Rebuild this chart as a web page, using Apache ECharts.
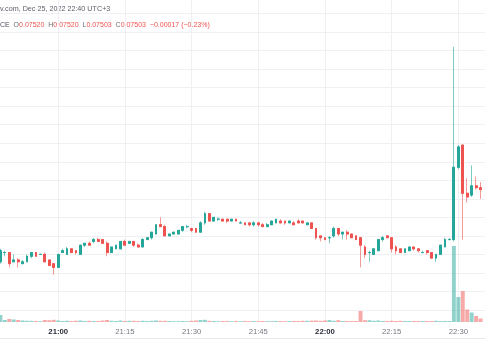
<!DOCTYPE html>
<html><head><meta charset="utf-8">
<script src="https://cdn.jsdelivr.net/npm/echarts@6/dist/echarts.min.js"></script>
<style>html,body{margin:0;padding:0;background:#fff}#c{width:485px;height:360px}</style>
</head><body><div id="c"></div>
<script>
// Minute categories (last one is an empty slot at the right edge)
const times = [
'20:47','20:48','20:49','20:50','20:51','20:52','20:53','20:54','20:55','20:56','20:57','20:58','20:59',
'21:00','21:01','21:02','21:03','21:04','21:05','21:06','21:07','21:08','21:09','21:10','21:11','21:12','21:13','21:14',
'21:15','21:16','21:17','21:18','21:19','21:20','21:21','21:22','21:23','21:24','21:25','21:26','21:27','21:28','21:29',
'21:30','21:31','21:32','21:33','21:34','21:35','21:36','21:37','21:38','21:39','21:40','21:41','21:42','21:43','21:44',
'21:45','21:46','21:47','21:48','21:49','21:50','21:51','21:52','21:53','21:54','21:55','21:56','21:57','21:58','21:59',
'22:00','22:01','22:02','22:03','22:04','22:05','22:06','22:07','22:08','22:09','22:10','22:11','22:12','22:13','22:14',
'22:15','22:16','22:17','22:18','22:19','22:20','22:21','22:22','22:23','22:24','22:25','22:26','22:27','22:28','22:29',
'22:30','22:31','22:32','22:33','22:34','22:35','22:36'];

const openP = [
0.07456,0.07461,0.07461,0.07456,0.07457,0.07455,0.07456,0.07459,0.07461,0.07460,
0.07460,0.07457,0.07455,0.07453,0.07461,0.07460,0.07463,0.07462,0.07460,0.07465,
0.07466,0.07467,0.07468,0.07468,0.07466,0.07461,0.07463,0.07463,0.07467,0.07466,
0.07467,0.07465,0.07464,0.07468,0.07469,0.07471,0.07476,0.07475,0.07470,0.07471,
0.07471,0.07473,0.07475,0.07474,0.07474,0.07472,0.07477,0.07482,0.07478,0.07479,
0.07479,0.07479,0.07478,0.07479,0.07477,0.07477,0.07477,0.07476,0.07477,0.07476,
0.07475,0.07476,0.07477,0.07478,0.07478,0.07477,0.07477,0.07478,0.07478,0.07476,
0.07477,0.07474,0.07470,0.07469,0.07469,0.07470,0.07474,0.07471,0.07472,0.07471,
0.07470,0.07469,0.07464,0.07461,0.07460,0.07462,0.07468,0.07470,0.07469,0.07464,
0.07463,0.07461,0.07462,0.07464,0.07463,0.07461,0.07462,0.07461,0.07458,0.07460,
0.07464,0.07468,0.07468,0.07507,0.07519,0.07493,0.07492,0.07497,0.07496];
const closeP = [
0.07462,0.07461,0.07455,0.07457,0.07456,0.07456,0.07459,0.07461,0.07459,0.07460,
0.07456,0.07454,0.07453,0.07460,0.07462,0.07463,0.07461,0.07461,0.07465,0.07466,
0.07465,0.07468,0.07467,0.07466,0.07461,0.07464,0.07465,0.07467,0.07465,0.07467,
0.07465,0.07464,0.07468,0.07469,0.07472,0.07476,0.07475,0.07470,0.07471,0.07472,
0.07473,0.07475,0.07475,0.07473,0.07472,0.07477,0.07482,0.07478,0.07480,0.07479,
0.07478,0.07478,0.07479,0.07478,0.07477,0.07476,0.07476,0.07477,0.07476,0.07475,
0.07476,0.07478,0.07479,0.07477,0.07477,0.07478,0.07476,0.07477,0.07477,0.07477,
0.07474,0.07469,0.07469,0.07468,0.07469,0.07474,0.07471,0.07472,0.07471,0.07469,
0.07468,0.07465,0.07460,0.07461,0.07463,0.07468,0.07469,0.07469,0.07463,0.07462,
0.07461,0.07463,0.07464,0.07463,0.07462,0.07461,0.07461,0.07458,0.07460,0.07465,
0.07468,0.07468,0.07507,0.07518,0.07493,0.07491,0.07497,0.07496,0.07495];
const lowP = [
0.07455,0.07459,0.07453,0.07456,0.07453,0.07455,0.07456,0.07458,0.07459,0.07460,
0.07456,0.07454,0.07449,0.07453,0.07461,0.07460,0.07461,0.07460,0.07460,0.07464,
0.07465,0.07466,0.07467,0.07466,0.07459,0.07461,0.07463,0.07463,0.07465,0.07466,
0.07464,0.07464,0.07464,0.07468,0.07468,0.07471,0.07475,0.07470,0.07470,0.07471,
0.07471,0.07472,0.07474,0.07472,0.07472,0.07472,0.07476,0.07478,0.07478,0.07478,
0.07478,0.07477,0.07478,0.07478,0.07477,0.07476,0.07475,0.07475,0.07475,0.07475,
0.07475,0.07476,0.07477,0.07477,0.07476,0.07477,0.07476,0.07477,0.07477,0.07476,
0.07474,0.07468,0.07467,0.07468,0.07466,0.07469,0.07470,0.07468,0.07468,0.07469,
0.07468,0.07453,0.07458,0.07456,0.07460,0.07462,0.07467,0.07469,0.07461,0.07460,
0.07461,0.07461,0.07462,0.07462,0.07461,0.07461,0.07460,0.07458,0.07456,0.07460,
0.07464,0.07468,0.07467,0.07506,0.07468,0.07488,0.07491,0.07495,0.07490];
const highP = [
0.07463,0.07462,0.07461,0.07460,0.07458,0.07457,0.07460,0.07461,0.07461,0.07460,
0.07461,0.07457,0.07455,0.07460,0.07463,0.07464,0.07463,0.07462,0.07465,0.07466,
0.07467,0.07469,0.07469,0.07468,0.07467,0.07464,0.07465,0.07467,0.07468,0.07467,
0.07467,0.07466,0.07469,0.07469,0.07472,0.07476,0.07480,0.07476,0.07471,0.07472,
0.07473,0.07475,0.07476,0.07474,0.07474,0.07478,0.07483,0.07482,0.07480,0.07480,
0.07479,0.07479,0.07479,0.07479,0.07478,0.07477,0.07477,0.07478,0.07477,0.07477,
0.07477,0.07478,0.07479,0.07479,0.07478,0.07478,0.07478,0.07479,0.07478,0.07477,
0.07477,0.07474,0.07470,0.07469,0.07470,0.07475,0.07474,0.07472,0.07473,0.07471,
0.07470,0.07469,0.07465,0.07462,0.07463,0.07468,0.07470,0.07470,0.07469,0.07465,
0.07463,0.07463,0.07464,0.07464,0.07463,0.07462,0.07462,0.07461,0.07460,0.07465,
0.07469,0.07469,0.07572,0.07519,0.07519,0.07501,0.07508,0.07502,0.07499];
const volume = [
70,20,30,25,20,15,12,12,10,8,
20,18,22,15,10,12,10,12,15,10,
12,10,10,15,20,12,10,15,10,12,
12,10,12,10,12,15,12,12,10,8,
8,10,8,12,15,20,22,12,10,8,
10,10,8,10,8,10,8,10,8,10,
8,8,10,10,8,10,10,10,12,12,
14,15,12,15,20,12,18,10,10,10,
10,110,18,18,12,15,10,10,12,10,
12,10,10,10,10,10,10,10,12,10,
10,10,760,250,310,125,95,60,35];
const lastPrice = 0.07502;
const titleText = 'v.com, Dec 25, 2022 22:40 UTC+3';
const legendSymbol = 'CE';
const legendKeys = ['O','H','L','C'];
const legendVals = ['0.07520','0.07520','0.07503','0.07503'];
const legendChange = '\u22120.00017 (\u22120.23%)';

const UP='#26a69a', DN='#ef5350';
const UPW='rgba(38,166,154,0.6)', DNW='rgba(239,83,80,0.6)';
const UPV='rgba(38,166,154,0.5)', DNV='rgba(239,83,80,0.5)';
const isUp = openP.map((o,i)=>closeP[i]>=o);

const wickData = openP.map((o,i)=>{const col=isUp[i]?UPW:DNW;
  return {value:[o,closeP[i],lowP[i],highP[i]],itemStyle:{color:col,color0:col,borderColor:col,borderColor0:col,borderColorDoji:col}};});
const bodyData = openP.map((o,i)=>{const c=closeP[i];const col=isUp[i]?UP:DN;
  return {value:[o,c,Math.min(o,c),Math.max(o,c)],itemStyle:{color:col,color0:col,borderColor:col,borderColor0:col,borderColorDoji:col}};});
const volData = volume.map((v,i)=>({value:v,itemStyle:{color:isUp[i]?UPV:DNV}}));

const every15 = (idx,val)=>{const m=parseInt(val.split(':')[1],10);return m%15===0;};
const FONT='"Liberation Sans", Arial, sans-serif';
const LF = 7;

const chart = echarts.init(document.getElementById('c'),null,{renderer:'canvas'});

const legendRich = {
  n:{fill:'#50535e',fontSize:LF,fontFamily:FONT},
  k:{fill:'#6b6e78',fontSize:LF,fontFamily:FONT},
  v:{fill:'#ef5350',fontSize:LF,fontFamily:FONT}};
let legendStr = '{n|'+legendSymbol+'}  ';
legendKeys.forEach((k,i)=>{legendStr += '{k|'+k+'}{v|'+legendVals[i]+'}  ';});
legendStr += '{v|'+legendChange+'}';

chart.setOption({
  animation:false,
  backgroundColor:'#ffffff',
  grid:[{left:0.4,right:-0.8,top:13.5,bottom:50},{left:0.4,right:-0.8,top:0,bottom:38}],
  xAxis:[
    {type:'category',gridIndex:0,data:times,boundaryGap:false,show:false},
    {type:'category',gridIndex:1,data:times,boundaryGap:false,
     axisLine:{show:false},axisTick:{show:false},
     splitLine:{show:true,interval:every15,lineStyle:{color:'#eef0f4',width:1}},
     axisLabel:{interval:every15,margin:5.5,fontSize:7.7,color:'#787b86',fontFamily:FONT,
       formatter:(v)=>v.endsWith(':00')?'{b|'+v+'}':v,
       rich:{b:{fontWeight:'bold',color:'#2a2e39',fontSize:7.7,fontFamily:FONT}}}}
  ],
  yAxis:[
    {type:'value',gridIndex:0,min:0.0743,max:0.0759,interval:0.0001,
     axisLabel:{show:false},axisLine:{show:false},axisTick:{show:false},
     splitLine:{show:true,lineStyle:{color:'#eef0f4',width:1}}},
    {type:'value',gridIndex:1,min:0,max:3220,show:false,splitLine:{show:false}}
  ],
  series:[
    {type:'bar',xAxisIndex:1,yAxisIndex:1,data:volData,barWidth:'88%',z:1,silent:true},
    {type:'candlestick',xAxisIndex:0,yAxisIndex:0,data:wickData,barWidth:2.3,clip:false,z:2,
     itemStyle:{borderWidth:1},
     markLine:{silent:true,symbol:'none',label:{show:false},
       lineStyle:{color:'rgba(239,83,80,0.55)',type:[2,2],width:1},data:[{yAxis:lastPrice}]}},
    {type:'candlestick',xAxisIndex:0,yAxisIndex:0,data:bodyData,barWidth:2.3,clip:false,z:3,
     itemStyle:{borderWidth:1}}
  ],
  graphic:[
    {type:'text',x:0,y:9,style:{text:titleText,fontSize:7.2,fontFamily:FONT,fill:'#5d606b',verticalAlign:'middle',textVerticalAlign:'middle'}},
    {type:'text',x:0,y:25.5,style:{text:legendStr,rich:legendRich,fontSize:LF,fontFamily:FONT,verticalAlign:'middle',textVerticalAlign:'middle'}},
    {type:'line',shape:{x1:0,y1:338.5,x2:485,y2:338.5},style:{stroke:'#e6e8ee',lineWidth:1}}
  ]
});
</script></body></html>
